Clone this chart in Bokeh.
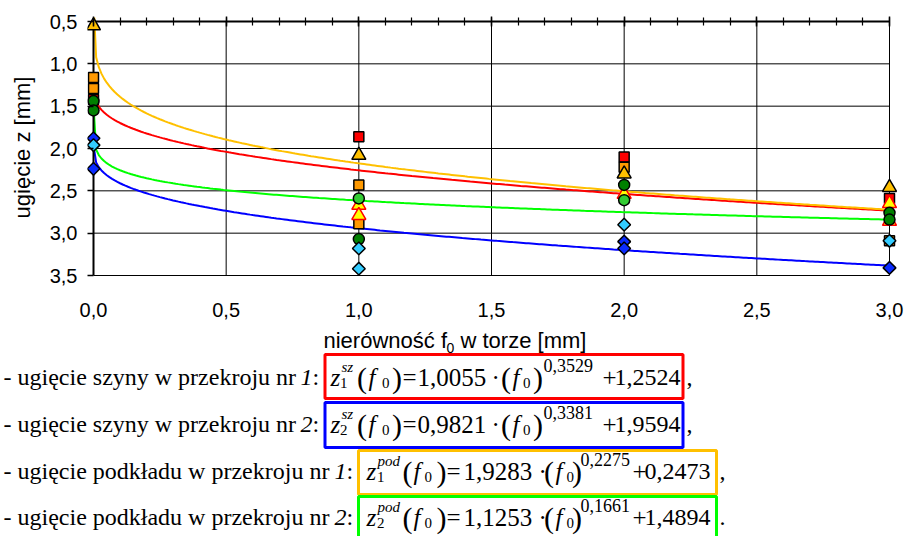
import numpy as np
from bokeh.plotting import figure
from bokeh.models import Range1d, FixedTicker, LinearAxis
from bokeh.layouts import column
from bokeh.core.properties import value
from bokeh.embed import file_html
from bokeh.resources import INLINE

# Fitted deflection curves z(f0) = a * f0**b + c
coef_a = [1.0055, 0.9821, 1.9283, 1.1253]
coef_b = [0.3529, 0.3381, 0.2275, 0.1661]
coef_c = [1.2524, 1.9594, 0.2473, 1.4894]
curve_colors = ["#FF0000", "#0000FF", "#FFC000", "#00FF00"]
box_colors = ["#FF0000", "#0000FF", "#FFC000", "#00FF00"]

# Measured deflections [mm] for irregularities f0 = 0, 1, 2, 3 mm
red_sq_x = [0, 1, 2, 3]
red_sq_y = [1.42, 1.86, 2.10, 2.59]
orange_sq_x = [0, 0, 1, 1, 2, 3]
orange_sq_y = [1.16, 1.29, 2.43, 2.89, 2.22, 3.09]
yellow_tri_x = [0, 1, 2, 3]
yellow_tri_y = [0.55, 2.08, 2.30, 2.46]
redyel_tri_x = [1, 1, 2, 3, 3]
redyel_tri_y = [2.67, 2.79, 2.54, 2.65, 2.86]
dkgreen_x = [0, 0, 1, 2, 3, 3]
dkgreen_y = [1.44, 1.55, 3.07, 2.43, 2.76, 2.84]
ltgreen_x = [1, 2]
ltgreen_y = [2.59, 2.61]
blue_dia_x = [0, 0, 2, 2, 3]
blue_dia_y = [1.88, 2.24, 3.10, 3.18, 3.41]
cyan_dia_x = [0, 1, 1, 2, 3]
cyan_dia_y = [1.96, 3.18, 3.42, 2.90, 3.09]

x_ticks = [0.0, 0.5, 1.0, 1.5, 2.0, 2.5, 3.0]
x_tick_labels = ["0,0", "0,5", "1,0", "1,5", "2,0", "2,5", "3,0"]
y_ticks = [0.5, 1.0, 1.5, 2.0, 2.5, 3.0, 3.5]
y_tick_labels = ["0,5", "1,0", "1,5", "2,0", "2,5", "3,0", "3,5"]
x_minor = [round(0.1 * i, 1) for i in range(31)]

row_labels = ["- ugięcie szyny w przekroju nr", "- ugięcie szyny w przekroju nr",
              "- ugięcie podkładu w przekroju nr", "- ugięcie podkładu w przekroju nr"]
row_index = ["1", "2", "1", "2"]
row_super = ["sz", "sz", "pod", "pod"]
row_end = [",", ",", ",", "."]

# ---------------- chart ----------------
W, H1, H2 = 907, 325, 211
AX_L, AX_R, AX_T, AX_B = 93, 889, 21, 275      # pixel box of the 0..3 x 0.5..3.5 area
PAD_L, PAD_R, PAD_T, PAD_B = 6, 8, 4, 2         # room so edge markers are not cut
BL, BR, BT = AX_L - PAD_L, W - AX_R - PAD_R, AX_T - PAD_T
BB = H1 - AX_B - PAD_B
sx = (AX_R - AX_L) / 3.0
sy = (AX_B - AX_T) / 3.0

p = figure(width=W, height=H1, output_backend="svg", toolbar_location=None,
           x_range=Range1d(-PAD_L / sx, 3.0 + PAD_R / sx),
           y_range=Range1d(3.5 + PAD_B / sy, 0.5 - PAD_T / sy),
           min_border_left=BL, min_border_right=BR, min_border_top=BT, min_border_bottom=BB,
           x_axis_location="below", y_axis_location="left", frame_align=False)
p.outline_line_color = None
p.grid.visible = False
p.background_fill_color = "white"
p.border_fill_color = "white"

bottom = p.below[0]
bottom.ticker = FixedTicker(ticks=x_ticks, minor_ticks=[])
bottom.major_label_overrides = {t: s for t, s in zip(x_ticks, x_tick_labels)}
bottom.axis_line_color = None
bottom.major_tick_line_color = None
bottom.minor_tick_line_color = None
bottom.major_tick_out = 0
bottom.major_tick_in = 0
bottom.minor_tick_out = 0
bottom.minor_tick_in = 0
bottom.major_label_standoff = 25
bottom.major_label_text_font = "Liberation Sans"
bottom.major_label_text_font_size = "20px"
bottom.major_label_text_color = "black"

yax = p.left[0]
yax.ticker = FixedTicker(ticks=y_ticks, minor_ticks=[])
yax.bounds = (0.5, 3.5)
yax.major_label_overrides = {t: s for t, s in zip(y_ticks, y_tick_labels)}
yax.axis_line_color = None
yax.major_tick_out = 0
yax.major_tick_in = PAD_L
yax.major_tick_line_width = 1.5
yax.major_tick_line_color = "black"
yax.minor_tick_line_color = None
yax.minor_tick_out = 0
yax.minor_tick_in = 0
yax.major_label_standoff = 10
yax.major_label_text_font = "Liberation Sans"
yax.major_label_text_font_size = "20px"
yax.major_label_text_color = "black"
yax.axis_label = "ugięcie z [mm]"
yax.axis_label_text_font = "Liberation Sans"
yax.axis_label_text_font_size = "22px"
yax.axis_label_text_font_style = "normal"
yax.axis_label_text_color = "black"
yax.axis_label_standoff = 12

# category axis: ticks crossing the 0,5 line
top = LinearAxis(ticker=FixedTicker(ticks=x_ticks, minor_ticks=x_minor), bounds=(0.0, 3.0))
top.major_label_overrides = {t: "" for t in x_ticks}
top.major_label_text_font_size = "1px"
top.major_label_standoff = 0
top.axis_line_color = None
top.major_tick_in = PAD_T + 5
top.major_tick_out = 1
top.major_tick_line_width = 1.5
top.major_tick_line_color = "black"
top.minor_tick_in = PAD_T + 4
top.minor_tick_out = 0
top.minor_tick_line_width = 1.2
top.minor_tick_line_color = "black"
p.add_layout(top, "above")

# grid lines between the axis bounds
gx = x_ticks[1:]
p.segment(x0=gx, y0=[y_ticks[0]] * len(gx), x1=gx, y1=[y_ticks[-1]] * len(gx),
          line_color="black", line_width=1)
gy = y_ticks[1:]
p.segment(x0=[x_ticks[0]] * len(gy), y0=gy, x1=[x_ticks[-1]] * len(gy), y1=gy,
          line_color="black", line_width=1)

# fitted curves
f0 = np.linspace(0.0, 3.0, 301)
for a, b, c, col in zip(coef_a, coef_b, coef_c, curve_colors):
    p.line(f0, a * f0 ** b + c, line_color=col, line_width=2)

# axis lines: value axis at f0 = 0 and category axis at z = 0,5
p.segment(x0=[x_ticks[0]], y0=[y_ticks[0]], x1=[x_ticks[0]], y1=[y_ticks[-1]],
          line_color="black", line_width=2)
p.segment(x0=[x_ticks[0]], y0=[y_ticks[0]], x1=[x_ticks[-1]], y1=[y_ticks[0]],
          line_color="black", line_width=2)

# measured points
def pts(xs, ys, marker, fill, line, size, angle=0.0):
    p.scatter(x=xs, y=ys, marker=marker, size=size, fill_color=fill,
              line_color=line, line_width=1.5, angle=angle)

pts(red_sq_x, red_sq_y, "square", "#FF0000", "black", 10)
pts(orange_sq_x, orange_sq_y, "square", "#FF9900", "black", 10)
pts(yellow_tri_x, yellow_tri_y, "triangle", "#FFC000", "black", 14)
pts(redyel_tri_x, redyel_tri_y, "triangle", "#FFFF00", "#FF0000", 14)
pts(dkgreen_x, dkgreen_y, "circle", "#008000", "black", 11)
pts(ltgreen_x, ltgreen_y, "circle", "#33CC33", "black", 11)
pts(blue_dia_x, blue_dia_y, "square", "#0A2BFF", "black", 9, np.pi / 4)
pts(cyan_dia_x, cyan_dia_y, "square", "#33CCFF", "black", 9, np.pi / 4)

# ---------------- formula panel ----------------
q = figure(width=W, height=H2, output_backend="svg", toolbar_location=None,
           x_range=Range1d(0, W), y_range=Range1d(H2, 0),
           min_border=0, x_axis_location=None, y_axis_location=None, frame_align=False)
q.outline_line_color = None
q.grid.visible = False
q.background_fill_color = "white"
q.border_fill_color = "white"

Y0 = H1            # vertical offset of this panel on the page
BASE_SHIFT = 0.3   # alphabetic baseline correction, in em

def put(x, y, s, size, font="Liberation Serif", style="normal"):
    q.text(x=[x], y=[y - Y0 - BASE_SHIFT * size], text=[s], text_font=value(font),
           text_font_size=value(f"{size}px"), text_font_style=value(style),
           text_color="black", text_align="left", text_baseline="alphabetic")

# axis title (with subscript)
put(323, 347, "nierówność f", 22, "Liberation Sans")
put(446, 352, "0", 14, "Liberation Sans")
put(460, 347, "w torze [mm]", 22, "Liberation Sans")

def fmt(v):
    return f"{v:.4f}".replace(".", ",")

baselines = [384, 431, 478, 524]
index_x = [300, 300, 334, 334]
box_left = [324.5, 324.5, 358, 358]
box_right = [682.5, 682.5, 716, 716]
box_top = [354, 402, 450, 496]
box_bot = [398, 447, 494, 540]

# horizontal origins of the formula pieces, measured from the box's left edge
sz_off = dict(z=5.5, sub=15, sup=16.5, p1=32, f1=43.5, s1=57, q1=67, eq=77.5,
              a=92.5, dot=166.5, p2=176, f2=187.5, s2=198, q2=208, b=218.5, plus=277.5, c=289.5)
pod_off = dict(z=8, sub=18.5, sup=19, p1=44, f1=55, s1=66, q1=78, eq=88,
               a=105, dot=180, p2=185.5, f2=197, s2=208, q2=213.5, b=222, plus=274, c=286)
end_x = [686, 686, 719, 719]

for i in range(4):
    yb = baselines[i]
    put(3, yb, row_labels[i], 24)
    put(index_x[i], yb, row_index[i], 24, style="italic")
    put(index_x[i] + 12, yb, ":", 24)

    L = box_left[i]
    o = sz_off if row_super[i] == "sz" else pod_off
    put(L + o["z"], yb, "z", 25, style="italic")
    put(L + o["sub"], yb + 3, row_index[i], 15)
    put(L + o["sup"], yb - 13, row_super[i], 15, style="italic")
    put(L + o["p1"], yb + 2, "(", 30)
    put(L + o["f1"], yb, "f", 25, style="italic")
    put(L + o["s1"], yb + 3, "0", 15)
    put(L + o["q1"], yb + 2, ")", 30)
    put(L + o["eq"], yb, "=", 25)
    put(L + o["a"], yb, fmt(coef_a[i]), 25)
    put(L + o["dot"], yb, "·", 25)
    put(L + o["p2"], yb + 2, "(", 30)
    put(L + o["f2"], yb, "f", 25, style="italic")
    put(L + o["s2"], yb + 3, "0", 15)
    put(L + o["q2"], yb + 2, ")", 30)
    put(L + o["b"], yb - 14, fmt(coef_b[i]), 18)
    put(L + o["plus"], yb, "+", 25)
    put(L + o["c"], yb, fmt(coef_c[i]), 24)
    put(end_x[i], yb, row_end[i], 24)

q.quad(left=box_left, right=box_right,
       top=[t - Y0 for t in box_top], bottom=[b - Y0 for b in box_bot],
       fill_color=None, line_color=box_colors, line_width=3)

layout = column(p, q, spacing=0)
open("out.html", "w").write(file_html(layout, INLINE))
